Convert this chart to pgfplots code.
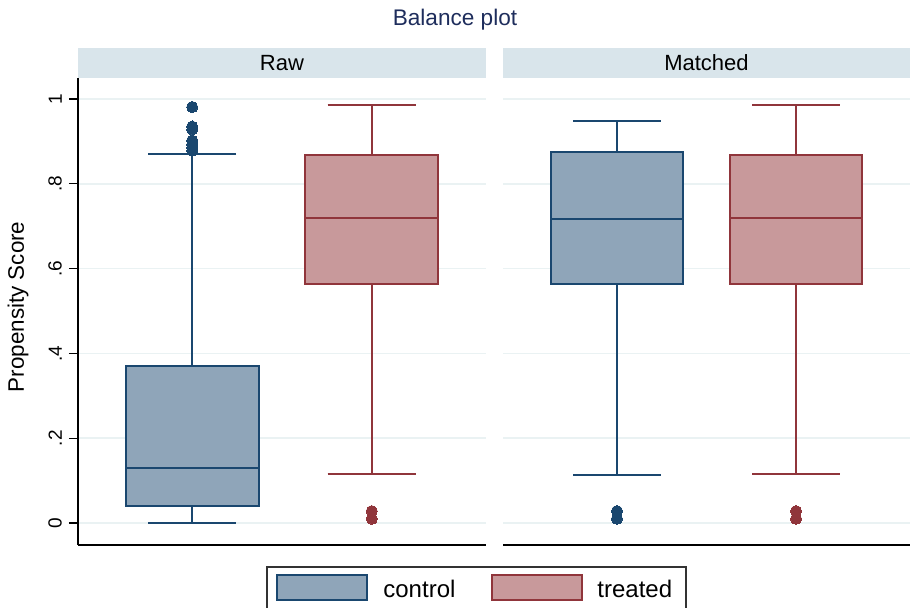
\documentclass[border=0pt]{standalone}
\usepackage{pgfplots}
\pgfplotsset{compat=1.18}
\usepgfplotslibrary{statistics}
\usepackage{fontspec}
\setmainfont{Liberation Sans}

\definecolor{ctrlline}{HTML}{1A476F}
\definecolor{ctrlfill}{HTML}{8FA5B9}
\definecolor{treatline}{HTML}{90353B}
\definecolor{treatfill}{HTML}{C8999B}
\definecolor{stripc}{HTML}{D9E5EB}
\definecolor{gridc}{HTML}{EAF2F3}
\definecolor{titlec}{HTML}{1E2D5C}

\pgfplotsset{
  panel/.style={
    scale only axis, anchor=south west,
    width=204pt, height=233.5pt,
    xmin=0, xmax=1, ymin=-0.0519, ymax=1.0495,
    xtick=\empty,
    ytick={0,0.2,0.4,0.6,0.8,1},
    yticklabels={0,.2,.4,.6,.8,1},
    yticklabel style={rotate=90, anchor=south, font=\fontsize{9.5}{11}\selectfont},
    tick align=outside, major tick length=4.5pt,
    ytick style={line width=0.6pt, black},
    ymajorgrids, grid style={gridc, line width=0.8pt},
    axis x line*=bottom, axis y line*=left,
    axis line style={-, line width=0.6pt, black},
    clip=false,
    boxplot/draw direction=y,
    boxplot/every whisker/.style={line width=0.75pt},
    boxplot/every median/.style={line width=0.9pt},
    boxplot/every box/.style={line width=0.95pt},
  },
  ctrl/.style={draw=ctrlline, fill=ctrlfill, mark=*, mark size=2.8pt,
    mark options={draw=ctrlline, fill=ctrlline, line width=0pt}},
  treat/.style={draw=treatline, fill=treatfill, mark=*, mark size=2.8pt,
    mark options={draw=treatline, fill=treatline, line width=0pt}},
}

\newcommand{\strip}[1]{%
  \fill[stripc] (rel axis cs:0,1) rectangle ([yshift=15pt]rel axis cs:1,1);
  \node[font=\fontsize{11}{13}\selectfont] at ([yshift=7.5pt]rel axis cs:0.5,1) {#1};}

\begin{document}
\begin{tikzpicture}
\useasboundingbox (0pt,0pt) rectangle (455pt,304pt);

\node[font=\fontsize{11.3}{13}\selectfont, text=titlec] at (227.5pt,294pt) {Balance plot};

% Raw
\begin{axis}[panel, at={(39pt,31.5pt)}]
\addplot[ctrl, boxplot prepared={draw position=0.28, box extend=0.326, whisker extend=0.216,
  lower whisker=0, lower quartile=0.040, median=0.130, upper quartile=0.370, upper whisker=0.870}]
  table[row sep=\\, y index=0] {data\\ 0.981\\ 0.935\\ 0.928\\ 0.902\\ 0.893\\ 0.885\\ 0.878\\};
\addplot[treat, boxplot prepared={draw position=0.72, box extend=0.326, whisker extend=0.216,
  lower whisker=0.116, lower quartile=0.564, median=0.719, upper quartile=0.868, upper whisker=0.986}]
  table[row sep=\\, y index=0] {data\\ 0.028\\ 0.010\\};
\strip{Raw}
\node[rotate=90, font=\fontsize{11.2}{13}\selectfont] at ([xshift=-30pt]rel axis cs:0,0.51) {Propensity Score};
\end{axis}

% Matched
\begin{axis}[panel, at={(251.5pt,31.5pt)}, width=203.5pt,
  yticklabels={}, ytick style={draw=none}, y axis line style={draw=none}]
\addplot[ctrl, boxplot prepared={draw position=0.28, box extend=0.326, whisker extend=0.216,
  lower whisker=0.113, lower quartile=0.564, median=0.717, upper quartile=0.875, upper whisker=0.948}]
  table[row sep=\\, y index=0] {data\\ 0.028\\ 0.010\\};
\addplot[treat, boxplot prepared={draw position=0.72, box extend=0.326, whisker extend=0.216,
  lower whisker=0.116, lower quartile=0.564, median=0.719, upper quartile=0.868, upper whisker=0.986}]
  table[row sep=\\, y index=0] {data\\ 0.028\\ 0.010\\};
\strip{Matched}
\end{axis}

% legend
\draw[line width=0.75pt, black!80] (133.5pt,-5pt) rectangle (343pt,20.5pt);
\draw[ctrlline, fill=ctrlfill, line width=0.9pt] (138.5pt,4pt) rectangle (183.5pt,16.5pt);
\node[anchor=west, font=\fontsize{12}{14}\selectfont, inner sep=0pt] at (191.5pt,9.5pt) {control};
\draw[treatline, fill=treatfill, line width=0.9pt] (246pt,4pt) rectangle (291pt,16.5pt);
\node[anchor=west, font=\fontsize{12}{14}\selectfont, inner sep=0pt] at (298.5pt,9.5pt) {treated};
\end{tikzpicture}
\end{document}
